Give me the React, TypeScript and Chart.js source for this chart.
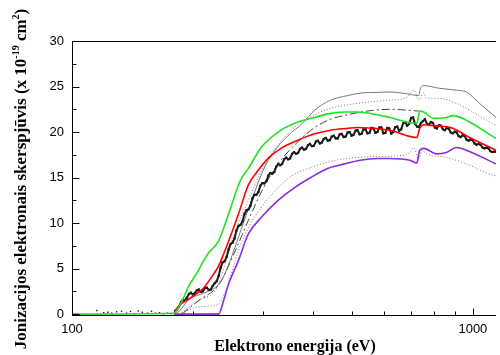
import React, { useEffect, useRef } from "react";
import { Chart, registerables } from "chart.js";
Chart.register(...registerables);

// Axis ticks
const xTickValues = [100, 200, 300, 400, 500, 600, 700, 800, 900, 1000];
const xTickLabels = ["100", "", "", "", "", "", "", "", "", "1000"];
const yTickValues = [0, 5, 10, 15, 20, 25, 30];
const yMinorTicks = [2.5, 7.5, 12.5, 17.5, 22.5, 27.5];

// Green model
const greenE = [100, 179.7, 187.0, 194.7, 206.0, 218.1, 232.2, 245.8, 263.1, 275.4, 296.4, 332.2, 366, 403, 441.7, 486.6, 515.1, 576.9, 621.2, 724.5, 737, 754, 798, 859, 894, 962.7, 1142];
const greenV = [0, 0.1, 1.2, 2.9, 4.7, 6.6, 8.05, 11.0, 14.7, 16.0, 18.3, 20.2, 21.1, 21.6, 22.05, 22.2, 22.2, 21.9, 21.6, 20.95, 22.3, 22.2, 21.5, 21.6, 21.8, 21.3, 19.3];

// Red model
const redE = [179.7, 181.7, 198.0, 213.2, 225.6, 232.2, 238.9, 245.8, 260.2, 275.4, 291.4, 308.5, 332.2, 366, 403, 441.7, 486.6, 515.1, 621.2, 724.5, 737, 754, 798, 894, 962.7, 1142];
const redV = [0, 0.5, 1.8, 2.9, 4.4, 5.3, 6.6, 8.0, 11.0, 14.2, 15.8, 17.1, 18.2, 19.1, 19.8, 20.2, 20.4, 20.5, 20.2, 19.4, 20.4, 20.8, 20.7, 20.4, 19.6, 18.0];

// Purple model
const purpleE = [179.7, 232.2, 238.9, 245.8, 260.2, 275.4, 296.4, 326.6, 359.5, 394, 434.2, 478.3, 524, 576.9, 621.2, 696.2, 724.5, 737, 754, 811.8, 859, 909.5, 962.7, 1142];
const purpleV = [0, 0, 1.5, 3.3, 5.9, 8.8, 10.6, 12.5, 13.9, 15.0, 16.0, 16.5, 16.9, 17.1, 17.1, 16.9, 16.6, 18.0, 18.2, 17.6, 17.75, 18.3, 18.0, 16.5];

// Gray solid model
const graySolidE = [180.7, 184.9, 195.7, 213.2, 225.6, 234.8, 248.6, 267.6, 283.3, 299.8, 317.4, 345.7, 376.6, 403, 441.7, 486.6, 529.7, 576.9, 621.2, 684.4, 732.9, 741.3, 754, 825.8, 909.5, 962.7, 1048, 1142];
const graySolidV = [0, 0.3, 1.6, 2.3, 2.8, 3.5, 6.0, 10.0, 13.0, 15.8, 17.7, 19.6, 21.0, 22.4, 23.5, 24.0, 24.3, 24.35, 24.4, 24.2, 24.0, 24.9, 25.1, 24.8, 24.6, 24.4, 23.0, 21.6];

// Gray dash-dot model
const grayDashDotE = [188.1, 207.2, 232.2, 252.8, 275.4, 299.8, 326.6, 359.5, 403, 441.7, 486.6, 545, 621.2, 684.4, 732.9];
const grayDashDotV = [0, 1.5, 3.2, 6.5, 10.3, 13.8, 16.5, 18.6, 20.5, 21.4, 21.9, 22.3, 22.5, 22.4, 22.3];

// Gray dotted (upper) model
const grayDotUpE = [184.9, 207.2, 229.5, 238.9, 252.8, 275.4, 303.3, 332.2, 366, 403, 441.7, 515.1, 621.2, 684.4, 712.2, 732.9, 754, 766.8, 825.8, 909.5, 962.7, 1142];
const grayDotUpV = [0, 1.5, 2.8, 5.0, 8.5, 12.5, 16.5, 19.0, 20.8, 21.9, 22.6, 23.15, 23.5, 23.8, 24.6, 23.5, 24.3, 23.7, 23.7, 23.15, 22.6, 20.7];

// Gray dotted (lower) model
const grayDotLowE = [184.9, 207.2, 229.5, 241.6, 260.2, 275.4, 296.4, 326.6, 359.5, 394, 434.2, 486.6, 567, 657.6, 696.2, 712.2, 732.9, 745.5, 766.8, 859, 962.7, 1097, 1142];
const grayDotLowV = [0, 0.8, 1.0, 2.5, 7.0, 9.5, 11.7, 13.9, 15.4, 16.1, 16.7, 17.1, 17.3, 17.4, 17.75, 18.3, 17.0, 18.0, 17.6, 17.2, 16.5, 15.4, 15.2];

// Experiment (black points) — baseline
const expBaseE = [115.3, 120.0, 122.8, 125.6, 129.2, 132.9, 136.8, 140.0, 143.1, 146.4, 149.8, 154.3, 157.9, 161.5, 165.3, 169.1, 173.0, 177.0];
const expBaseV = [0.4, 0.15, 0.2, 0.1, 0.25, 0.3, 0.1, 0.3, 0.05, 0.35, 0.2, 0.1, 0.3, 0.1, 0.15, 0.05, 0.1, 0.05];

// Experiment (black points) — main, set A
const expE = [180.7, 184.9, 189.1, 193.5, 198.0, 202.5, 207.2, 212.0, 216.9, 221.9, 227.0, 232.2, 237.6, 243.1, 248.7, 254.4, 260.3, 266.3, 272.4, 278.7, 285.1, 291.7, 298.4, 305.3, 312.3, 319.5, 326.9, 334.4, 342.1, 350.0, 358.1, 366.3, 374.8, 383.4, 392.2, 401.3, 410.5, 420.0, 429.6, 439.5, 449.7, 460.0, 470.6, 481.5, 492.6, 503.9, 515.5, 527.4, 539.6, 552.0, 564.7, 577.8, 591.1, 604.7, 618.6, 632.9, 647.5, 662.4, 677.7, 693.3, 709.3, 725.6, 742.3, 759.4, 776.9, 794.8, 813.2, 831.9, 851.1, 870.7, 890.8, 911.3, 932.3, 953.8, 975.8, 998.3, 1021.3, 1044.8, 1068.9, 1093.5, 1118.7, 1144.5];
const expV = [0.35, 0.8, 1.55, 1.8, 2.35, 2.3, 2.7, 2.5, 2.9, 2.7, 3.4, 4.2, 5.7, 6.3, 7.7, 8.3, 9.7, 10.2, 11.4, 11.9, 13.1, 13.4, 14.4, 14.6, 15.5, 15.6, 16.5, 16.5, 17.2, 17.1, 17.8, 17.7, 18.3, 18.15, 18.7, 18.5, 19.05, 18.85, 19.35, 19.1, 19.6, 19.3, 19.8, 19.5, 20.0, 19.7, 20.2, 19.8, 20.3, 19.9, 20.4, 20.0, 20.5, 19.9, 20.4, 20.0, 20.6, 20.3, 21.1, 20.9, 21.6, 20.6, 21.0, 21.4, 20.8, 21.0, 20.4, 20.7, 20.2, 20.35, 19.85, 19.95, 19.45, 19.55, 19.05, 19.1, 18.6, 18.6, 18.2, 18.2, 17.8, 17.8];

// Experiment (black points) — main, set B (interleaved)
const expE2 = [182.8, 187.0, 191.3, 195.7, 200.2, 204.8, 209.6, 214.4, 219.3, 224.4, 229.5, 234.8, 240.3, 245.8, 251.5, 257.3, 263.2, 269.3, 275.5, 281.9, 288.4, 295.0, 301.8, 308.8, 315.9, 323.2, 330.6, 338.2, 346.0, 354.0, 362.2, 370.5, 379.1, 387.8, 396.7, 405.9, 415.2, 424.8, 434.6, 444.6, 454.8, 465.3, 476.1, 487.0, 498.2, 509.7, 521.5, 533.5, 545.8, 558.3, 571.2, 584.4, 597.9, 611.6, 625.7, 640.2, 654.9, 670.0, 685.5, 701.3, 717.4, 733.9, 750.8, 768.1, 785.8, 803.9, 822.5, 841.4, 860.8, 880.6, 900.9, 921.7, 942.9, 964.6, 986.8, 1009.6, 1032.8, 1056.6, 1080.9, 1105.8, 1131.3];
const expV2 = [0.5, 1.3, 1.5, 2.2, 2.15, 2.6, 2.45, 2.85, 2.65, 3.1, 3.6, 5.1, 5.8, 7.1, 7.85, 9.2, 9.8, 11.0, 11.5, 12.7, 13.1, 14.1, 14.35, 15.2, 15.4, 16.2, 16.35, 17.0, 17.0, 17.6, 17.6, 18.15, 18.05, 18.55, 18.45, 18.95, 18.75, 19.25, 19.05, 19.5, 19.3, 19.75, 19.45, 19.95, 19.6, 20.15, 19.75, 20.3, 19.85, 20.45, 19.9, 20.5, 19.85, 20.45, 19.85, 20.55, 20.15, 20.95, 20.7, 21.55, 20.9, 20.55, 21.2, 20.9, 21.1, 20.5, 20.75, 20.3, 20.45, 19.95, 20.05, 19.55, 19.65, 19.15, 19.2, 18.75, 18.7, 18.3, 18.3, 17.9, 17.85];

const zip = (xs: number[], ys: number[]) => xs.map((x, i) => ({ x, y: ys[i] }));
const expAll = [...zip(expE, expV), ...zip(expE2, expV2)].sort((p, q) => p.x - q.x);

const SERIF = "'Liberation Serif', 'Times New Roman', serif";
const SANS = "'Liberation Sans', Arial, sans-serif";

const framePlugin = {
  id: "frame",
  afterDraw(chart: any) {
    const { ctx, chartArea: a, scales } = chart;
    const x = scales.x;
    const y = scales.y;
    ctx.save();
    ctx.strokeStyle = "#000";
    ctx.lineWidth = 1;
    ctx.beginPath();
    const L = Math.round(a.left) + 0.5;
    const B = Math.round(a.bottom) + 0.5;
    const T = Math.round(a.top) + 0.5;
    ctx.moveTo(L, T);
    ctx.lineTo(L, B);
    ctx.lineTo(a.right, B);
    ctx.moveTo(L, T);
    ctx.lineTo(a.right, T);
    xTickValues.forEach((v, i) => {
      const px = Math.round(x.getPixelForValue(v)) + 0.5;
      const len = xTickLabels[i] ? 7 : 4;
      ctx.moveTo(px, B);
      ctx.lineTo(px, B - len);
    });
    yTickValues.forEach((v) => {
      const py = Math.round(y.getPixelForValue(v)) + 0.5;
      ctx.moveTo(L, py);
      ctx.lineTo(L + 7, py);
    });
    yMinorTicks.forEach((v) => {
      const py = Math.round(y.getPixelForValue(v)) + 0.5;
      ctx.moveTo(L, py);
      ctx.lineTo(L + 4, py);
    });
    ctx.stroke();

    // X title
    ctx.fillStyle = "#000";
    ctx.font = `bold 16px ${SERIF}`;
    ctx.textAlign = "center";
    ctx.textBaseline = "middle";
    ctx.fillText("Elektrono energija (eV)", 295, 347);

    // Y title with superscripts
    const segs = [
      { t: "Jonizacijos elektronais skerspjūvis (x 10", f: `bold 17px ${SERIF}`, dy: 0 },
      { t: "-19", f: `bold 10px ${SERIF}`, dy: -6 },
      { t: " cm", f: `bold 17px ${SERIF}`, dy: 0 },
      { t: "2", f: `bold 10px ${SERIF}`, dy: -6 },
      { t: ")", f: `bold 17px ${SERIF}`, dy: 0 },
    ];
    let total = 0;
    segs.forEach((s) => {
      ctx.font = s.f;
      total += ctx.measureText(s.t).width;
    });
    ctx.translate(22, 179);
    ctx.rotate(-Math.PI / 2);
    ctx.textAlign = "left";
    let cx = -total / 2;
    segs.forEach((s) => {
      ctx.font = s.f;
      ctx.fillText(s.t, cx, s.dy);
      cx += ctx.measureText(s.t).width;
    });
    ctx.restore();
  },
};

export default function App() {
  const ref = useRef<HTMLCanvasElement>(null);
  useEffect(() => {
    if (!ref.current) return;
    const lineBase = { pointRadius: 0, fill: false, cubicInterpolationMode: "monotone" as const };
    const chart = new Chart(ref.current, {
      type: "line",
      data: {
        datasets: [
          { ...lineBase, data: zip(greenE, greenV), borderColor: "#22e022", borderWidth: 1.6 },
          { ...lineBase, data: zip(redE, redV), borderColor: "#ff0000", borderWidth: 1.6 },
          { ...lineBase, data: zip(purpleE, purpleV), borderColor: "#8a2be2", borderWidth: 1.6 },
          {
            data: expAll,
            showLine: true,
            tension: 0,
            borderColor: "#1a1a1a",
            borderWidth: 2,
            backgroundColor: "#1a1a1a",
            pointStyle: "rect",
            pointRadius: 1.5,
            pointBorderWidth: 0,
            fill: false,
          },
          {
            data: zip(expBaseE, expBaseV),
            showLine: false,
            borderColor: "#1a1a1a",
            backgroundColor: "#1a1a1a",
            pointStyle: "rect",
            pointRadius: 1,
            pointBorderWidth: 0,
          },
          { ...lineBase, data: zip(graySolidE, graySolidV), borderColor: "#777", borderWidth: 1 },
          { ...lineBase, data: zip(grayDashDotE, grayDashDotV), borderColor: "#444", borderWidth: 1, borderDash: [8, 3, 2, 3] },
          { ...lineBase, data: zip(grayDotUpE, grayDotUpV), borderColor: "#777", borderWidth: 1, borderDash: [1, 2] },
          { ...lineBase, data: zip(grayDotLowE, grayDotLowV), borderColor: "#777", borderWidth: 1, borderDash: [1, 2] },
        ],
      },
      options: {
        responsive: false,
        animation: false,
        devicePixelRatio: 1,
        layout: { padding: { top: 41, left: 0, right: 0, bottom: 0 } },
        plugins: { legend: { display: false }, tooltip: { enabled: false } },
        scales: {
          x: {
            type: "logarithmic",
            min: 100,
            max: 1142,
            grid: { display: false, drawTicks: false },
            border: { display: false },
            afterBuildTicks: (s: any) => {
              s.ticks = xTickValues.map((v) => ({ value: v }));
            },
            afterFit: (s: any) => {
              s.height = 40;
            },
            ticks: {
              autoSkip: false,
              maxRotation: 0,
              padding: 7,
              color: "#000",
              font: { family: SANS, size: 13 },
              callback: (v: any) => {
                const i = xTickValues.indexOf(Number(v));
                return i >= 0 ? xTickLabels[i] : "";
              },
            },
          },
          y: {
            type: "linear",
            min: -0.1,
            max: 30,
            grid: { display: false, drawTicks: false },
            border: { display: false },
            afterBuildTicks: (s: any) => {
              s.ticks = yTickValues.map((v) => ({ value: v }));
            },
            afterFit: (s: any) => {
              s.width = 72;
            },
            ticks: {
              padding: 8,
              color: "#000",
              font: { family: SANS, size: 13 },
              callback: (v: any) => String(v),
            },
          },
        },
      },
      plugins: [framePlugin],
    } as any);
    return () => chart.destroy();
  }, []);
  return (
    <div style={{ position: "absolute", left: 0, top: 0, width: 500, height: 355, background: "#fff", overflow: "hidden" }}>
      <canvas ref={ref} width={500} height={355} style={{ display: "block" }} />
    </div>
  );
}
